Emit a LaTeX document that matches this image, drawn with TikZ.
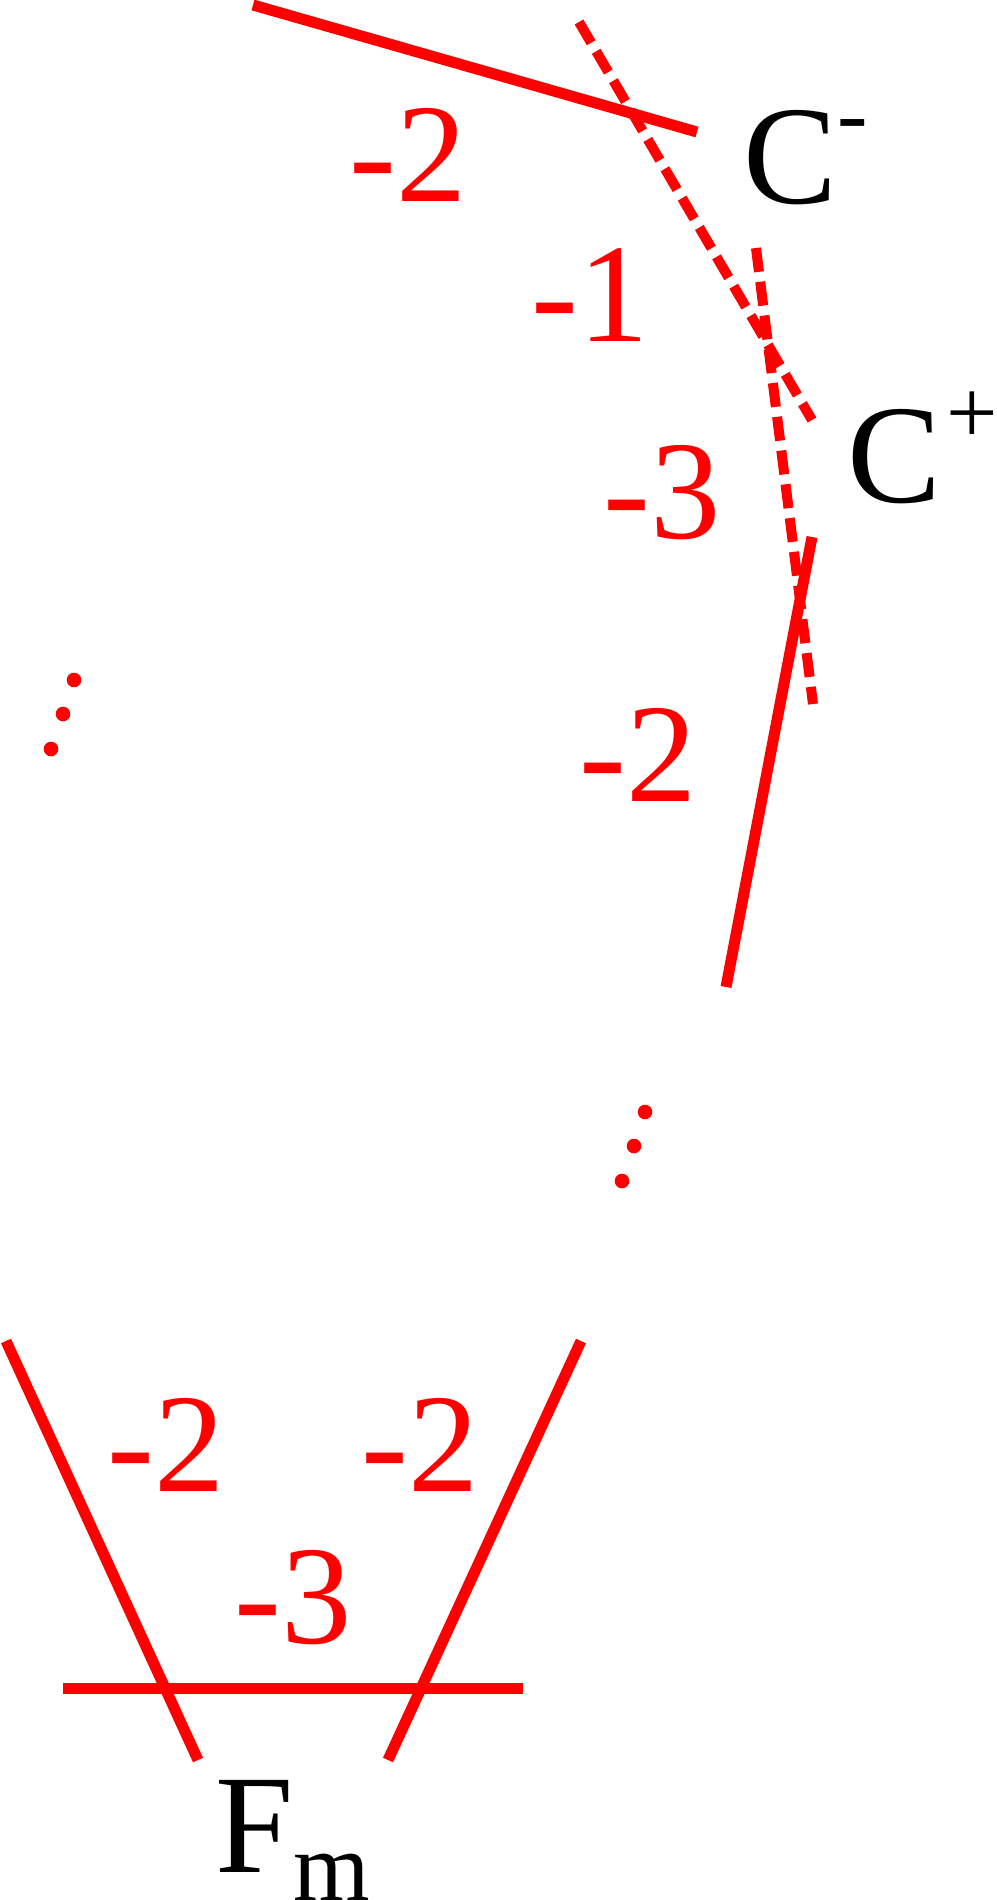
\documentclass[tikz,border=0pt]{standalone}
\usepackage{fontspec}
\setmainfont{Liberation Serif}
\usetikzlibrary{positioning}

\begin{document}
\begin{tikzpicture}[x=0.01cm, y=-0.01cm,
  every node/.style={inner sep=0pt, font=\fontsize{40}{48}\selectfont},
  curve/.style={red, line width=0.11cm},
  dashcurve/.style={red, line width=0.1cm, dash pattern=on 0.24cm off 0.1cm},
  num/.style={red, anchor=base},
  lab/.style={black, anchor=base west},
  dot/.style={circle, fill=red, minimum size=0.146cm}]
\useasboundingbox (0,0) rectangle (996,1900);
% Coordinates
\coordinate (a1) at (253,5);
\coordinate (a2) at (697,132);
\coordinate (b1) at (579,22);
\coordinate (b2) at (812,420);
\coordinate (c1) at (756,248);
\coordinate (c2) at (813,704);
\coordinate (d1) at (812,537);
\coordinate (d2) at (726,987);
\coordinate (e1) at (6,1341);
\coordinate (e2) at (198,1760);
\coordinate (f1) at (581,1341);
\coordinate (f2) at (388,1760);
\coordinate (g1) at (63,1688);
\coordinate (g2) at (523,1688);
% Curves
\draw[curve] (a1) -- (a2);
\draw[dashcurve] (b1) -- (b2);
\draw[dashcurve] (c1) -- (c2);
\draw[curve] (d1) -- (d2);
\draw[curve] (e1) -- (e2);
\draw[curve] (f1) -- (f2);
\draw[curve] (g1) -- (g2);
% Dots
\node[dot] (p1) at (74,680) {};
\node[dot] (p2) at (63,714) {};
\node[dot] (p3) at (51,749) {};
\node[dot] (q1) at (645,1112) {};
\node[dot] (q2) at (634,1146) {};
\node[dot] (q3) at (622,1181) {};
% Labels
\node[num] (n1) at (408,202) {-2};
\node[num] (n2) at (590,341) {-1};
\node[num] (n3) at (662,538) {-3};
\node[num] (n4) at (638,801) {-2};
\node[num] (n5) at (166,1491) {-2};
\node[num] (n6) at (420,1491) {-2};
\node[num] (n7) at (293,1643) {-3};
\node[lab] (cminus) at (743,203) {C\raisebox{16.5pt}{\fontsize{26}{30}\selectfont -}};
\node[lab] (cplus) at (847,502) {C\kern1.5pt\raisebox{16.5pt}{\fontsize{26}{30}\selectfont +}};
\node[lab] (fm) at (215,1872) {F\raisebox{-8pt}{\fontsize{28}{32}\selectfont m}};
\end{tikzpicture}
\end{document}
